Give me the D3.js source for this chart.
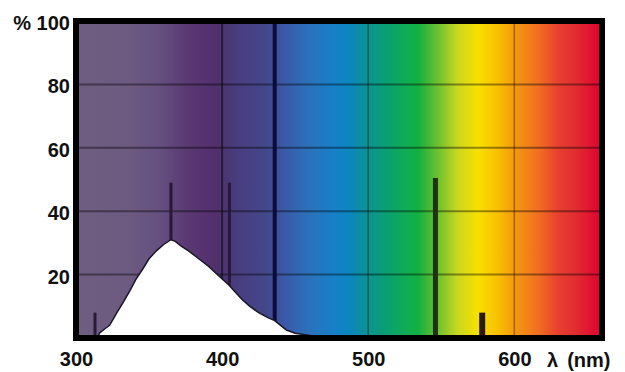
<!DOCTYPE html>
<html lang="en">
<head>
  <meta charset="utf-8">
  <title>Spectrum</title>
  <style>
    body { margin: 0; background: #fff; }
    text { font-family: "Liberation Sans", Arial, sans-serif; font-weight: bold; fill: #111; }
  </style>
</head>
<body>
  <div id="chart"></div>
  <script src="https://d3js.org/d3.v7.min.js"></script>
  <script>
    // continuous emission (wavelength nm, relative %)
    var contNm  = [315, 316, 320, 323, 328, 332, 337, 341, 346, 350, 355, 360, 365, 368, 372, 377, 384, 391, 398, 404, 408, 414, 419, 425, 431, 436, 440, 444, 450, 460, 475, 490];
    var contPct = [0, 1.5, 3, 4, 8, 11, 15, 18.5, 22, 25, 27.5, 29.5, 31, 30.5, 29, 27.5, 25, 22.5, 19.5, 17, 15, 12, 10, 8, 6.5, 5.5, 4, 2.5, 1.5, 0.8, 0.4, 0];

    // mercury lines
    var lineNm  = [313, 365, 405, 436, 546, 578];
    var linePct = [8, 49, 49, 100, 50.5, 8];

    var xTicks = [300, 400, 500, 600];
    var yTicks = [20, 40, 60, 80, 100];

    // background spectrum colour stops
    var bandNm  = [300, 337, 357, 375, 391, 395, 412, 429, 443, 460, 477, 487, 500, 513, 527, 534, 548, 561, 575, 589, 600, 616, 630, 644, 660];
    var bandCol = ["#6e5e80", "#6c5a80", "#655080", "#5a3a72", "#553070", "#50306a", "#483e80", "#44468a", "#3a5aa8", "#2a72bc", "#1680c8", "#0c86c0", "#0c9490", "#0aa070", "#10ae50", "#12b040", "#70c030", "#c8d820", "#f8e000", "#f8c000", "#f49a10", "#f07020", "#e84030", "#e02830", "#e00030"];

    var w = 625, h = 372;
    var x = d3.scaleLinear().domain([300, 660]).range([76, 602]);
    var y = d3.scaleLinear().domain([0, 100]).range([338, 21]);

    var svg = d3.select("#chart").append("svg").attr("width", w).attr("height", h);
    var defs = svg.append("defs");

    var grad = defs.append("linearGradient").attr("id", "spec")
      .attr("gradientUnits", "userSpaceOnUse")
      .attr("x1", x(300)).attr("x2", x(660)).attr("y1", 0).attr("y2", 0);
    grad.selectAll("stop").data(bandNm).enter().append("stop")
      .attr("offset", d => (x(d) - x(300)) / (x(660) - x(300)))
      .attr("stop-color", (d, i) => bandCol[i]);

    defs.append("clipPath").attr("id", "plot").append("rect")
      .attr("x", x(300)).attr("y", y(100))
      .attr("width", x(660) - x(300)).attr("height", y(0) - y(100));

    var g = svg.append("g").attr("clip-path", "url(#plot)");

    g.append("rect")
      .attr("x", x(300)).attr("y", y(100))
      .attr("width", x(660) - x(300)).attr("height", y(0) - y(100))
      .attr("fill", "url(#spec)");

    // grid
    g.selectAll(".hgrid").data([20, 40, 60, 80]).enter().append("line")
      .attr("x1", x(300)).attr("x2", x(660))
      .attr("y1", d => y(d)).attr("y2", d => y(d))
      .attr("stroke", "#000").attr("stroke-opacity", 0.4).attr("stroke-width", 2);
    g.selectAll(".vgrid").data([400, 500, 600]).enter().append("line")
      .attr("x1", d => x(d)).attr("x2", d => x(d))
      .attr("y1", y(100)).attr("y2", y(0))
      .attr("stroke", "#000").attr("stroke-opacity", d => d === 400 ? 0.5 : 0.35)
      .attr("stroke-width", d => d === 400 ? 2 : 1.5);

    // spectral lines
    var lineW = { 313: 3, 365: 3, 405: 3, 436: 4, 546: 5, 578: 6 };
    var lineC = { 313: "#2a1a3a", 365: "#2a1838", 405: "#2a1838", 436: "#0c0c3a", 546: "#1c3414", 578: "#2a1a0a" };
    g.selectAll(".hg").data(lineNm).enter().append("line")
      .attr("x1", d => x(d)).attr("x2", d => x(d))
      .attr("y1", y(0)).attr("y2", (d, i) => y(linePct[i]))
      .attr("stroke", d => lineC[d]).attr("stroke-width", d => lineW[d]);

    // continuum
    var area = d3.area()
      .x((d, i) => x(d)).y0(y(0)).y1((d, i) => y(contPct[i]))
      .curve(d3.curveLinear);
    g.append("path").datum(contNm).attr("d", area)
      .attr("fill", "#fff").attr("stroke", "#1a1626").attr("stroke-width", 1.5);

    // frame
    svg.append("rect")
      .attr("x", x(300)).attr("y", y(100))
      .attr("width", x(660) - x(300)).attr("height", y(0) - y(100))
      .attr("fill", "none").attr("stroke", "#000").attr("stroke-width", 6);

    // axes
    var yAxis = d3.axisLeft(y).tickValues(yTicks).tickSize(0).tickPadding(0)
      .tickFormat(d => d === 100 ? "% 100" : d);
    var ya = svg.append("g").attr("transform", "translate(70,2)").call(yAxis);
    ya.select(".domain").remove();
    ya.selectAll("text").style("font-size", "20px").style("font-family", null).attr("fill", "#111");

    var xAxis = d3.axisBottom(x).tickValues(xTicks).tickSize(0).tickPadding(0);
    var xa = svg.append("g").attr("transform", "translate(0,352)").call(xAxis);
    xa.select(".domain").remove();
    xa.selectAll("text").style("font-size", "20px").style("font-family", null).attr("fill", "#111");

    var lab = svg.append("text").attr("x", 547).attr("y", 367).style("font-size", "20px");
    lab.append("tspan").text("λ");
    lab.append("tspan").attr("dx", 9).text("(nm)");
  </script>
</body>
</html>
